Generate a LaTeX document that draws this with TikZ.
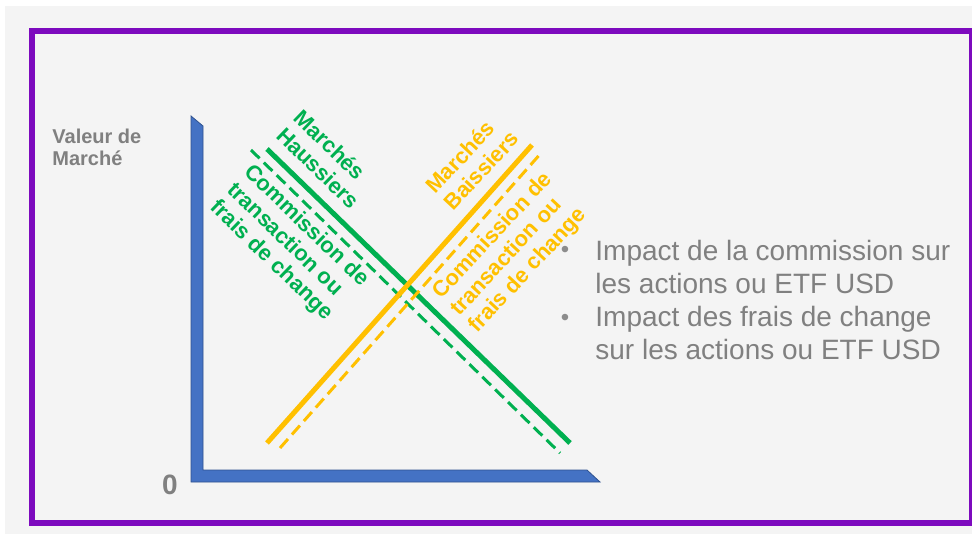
\documentclass[tikz,border=0pt]{standalone}
\usepackage{fontspec}
\setmainfont{Liberation Sans}
\definecolor{fond}{RGB}{244,244,244}
\definecolor{cadre}{RGB}{125,10,190}
\definecolor{axe}{RGB}{68,114,196}
\definecolor{axefonce}{RGB}{47,82,143}
\definecolor{vert}{RGB}{0,176,80}
\definecolor{jaune}{RGB}{255,192,0}
\definecolor{gris}{RGB}{128,128,128}
\definecolor{grisclair}{RGB}{140,140,140}
\begin{document}
\begin{tikzpicture}[x=0.5pt, y=-0.5pt,
		etiquette/.style={font=\bfseries\fontsize{11}{12.3}\selectfont, align=left, inner sep=0pt},
		pleine/.style={line width=2.5pt},
		tirets/.style={line width=1.5pt, dash pattern=on 6pt off 3pt},
		puce/.style={text=grisclair, font=\fontsize{12}{14}\selectfont, inner sep=0pt}]
		\useasboundingbox (0,0) rectangle (972,534);
		\fill[white] (0,0) rectangle (972,534);
		\fill[fond] (5,6) rectangle (972,534);
		\draw[cadre, line width=3pt] (32,31.5) rectangle (972,522.5);
		
		% axes
		\filldraw[fill=axe, draw=axefonce, line width=0.4pt] 
		(191,482) -- (191,116) -- (203,126) -- (203,470) -- (587,470) -- (600,482) -- cycle;
		\node (valeur) [anchor=north west, inner sep=0pt, align=left, text=gris, font=\bfseries\fontsize{10}{11}\selectfont] at (52,128.5) {Valeur de\\Marché};
		\node (zero) [text=gris, font=\bfseries\fontsize{14}{16}\selectfont] at (170,485) {0};
		
		\coordinate (H1) at (267,149);
		\coordinate (H2) at (570,443);
		\coordinate (H3) at (251,150);
		\coordinate (H4) at (560,453);
		\coordinate (B1) at (267,443);
		\coordinate (B2) at (532,145);
		\coordinate (B3) at (280,448);
		\coordinate (B4) at (542,152);
		
		\draw [pleine, color=vert] (H1) -- (H2);
		\draw [tirets, color=vert] (H3) -- (H4);
		\draw [pleine, color=jaune] (B1) -- (B2);
		\draw [tirets, color=jaune] (B3) -- (B4);
		
		\node (hausse) [etiquette, text=vert, rotate=-44] at (327,159) {Marchés\\Haussiers};
		\node (fraisH) [etiquette, text=vert, rotate=-44] at (289,244) {Commission de\\transaction ou\\frais de change};
		\node (baisse) [etiquette, text=jaune, rotate=47] at (472,162) {Marchés\\Baissiers};
		\node (fraisB) [etiquette, text=jaune, rotate=47] at (511,253) {Commission de\\transaction ou\\frais de change};
		
		% liste
		\node (puce1) [puce] at (565,252) {•};
		\node (puce2) [puce] at (565,320) {•};
		\node (impact) [anchor=north west, inner sep=0pt, align=left, text=gris, font=\fontsize{14}{16.5}\selectfont] at (595,240) 
		{Impact de la commission sur\\les actions ou ETF USD\\Impact des frais de change\\sur les actions ou ETF USD};
	\end{tikzpicture}
\end{document}
